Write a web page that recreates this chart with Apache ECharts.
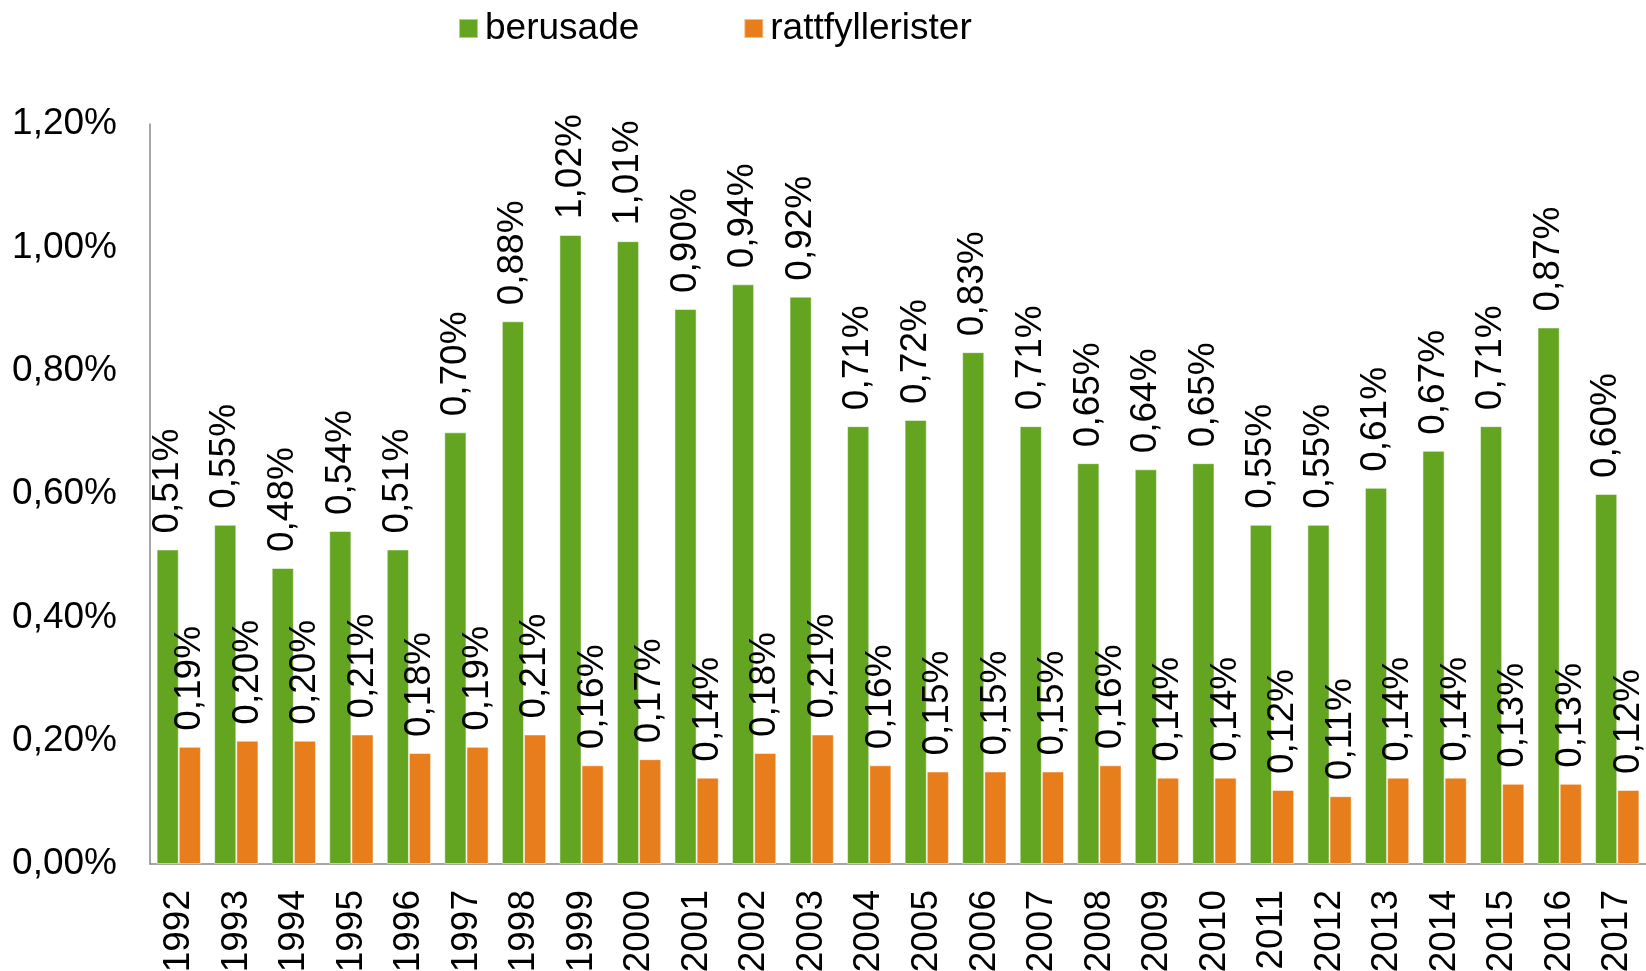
<!DOCTYPE html>
<html>
<head>
<meta charset="utf-8">
<script src="https://cdn.jsdelivr.net/npm/echarts@6/dist/echarts.min.js"></script>
<style>
  html, body { margin: 0; padding: 0; background: #fff; }
  #chart { width: 1646px; height: 971px; }
</style>
</head>
<body>
<div id="chart"></div>
<script>
const years = ['1992', '1993', '1994', '1995', '1996', '1997', '1998', '1999', '2000', '2001', '2002', '2003', '2004',
    '2005', '2006', '2007', '2008', '2009', '2010', '2011', '2012', '2013', '2014', '2015', '2016', '2017'];
const berusade = [0.51, 0.55, 0.48, 0.54, 0.51, 0.70, 0.88, 1.02, 1.01, 0.90, 0.94, 0.92, 0.71,
    0.72, 0.83, 0.71, 0.65, 0.64, 0.65, 0.55, 0.55, 0.61, 0.67, 0.71, 0.87, 0.60];
const rattfyllerister = [0.19, 0.20, 0.20, 0.21, 0.18, 0.19, 0.21, 0.16, 0.17, 0.14, 0.18, 0.21, 0.16,
    0.15, 0.15, 0.15, 0.16, 0.14, 0.14, 0.12, 0.11, 0.14, 0.14, 0.13, 0.13, 0.12];

const fontFam = '"Liberation Sans", Arial, sans-serif';

// procent med komma
function pct(v) {
    return v.toFixed(2).replace('.', ',') + '%';
}

let chart = echarts.init(document.getElementById('chart'));

let barLabel = {
    show: true,
    position: 'top',
    rotate: 90,
    align: 'left',
    verticalAlign: 'middle',
    distance: 16,
    fontSize: 37,
    fontFamily: fontFam,
    color: '#000',
    formatter: function (p) { return pct(p.value); }
};

const option = {
    animation: false,
    textStyle: { fontFamily: fontFam },
    legend: {
        top: 5,
        left: 453,
        itemWidth: 19,
        itemHeight: 19,
        itemGap: 104,
        icon: 'rect',
        textStyle: { fontSize: 37, color: '#000', fontFamily: fontFam, padding: [0, 0, 0, 2] },
        data: ['berusade', 'rattfyllerister']
    },
    grid: {
        left: 150,
        right: 0,
        top: 124,
        bottom: 107,
        containLabel: false,
        outerBoundsMode: 'none'
    },
    xAxis: {
        type: 'category',
        data: years,
        axisLine: { lineStyle: { color: '#898989', width: 1.5 } },
        axisTick: { show: false },
        axisLabel: {
            rotate: 90,
            margin: 26,
            fontSize: 37,
            color: '#000',
            fontFamily: fontFam
        }
    },
    yAxis: {
        type: 'value',
        min: 0,
        max: 1.2,
        interval: 0.2,
        axisLine: { show: true, lineStyle: { color: '#898989', width: 1.5 } },
        axisTick: { show: false },
        splitLine: { show: false },
        axisLabel: {
            margin: 33,
            fontSize: 37,
            color: '#000',
            fontFamily: fontFam,
            formatter: function (v) { return pct(v); }
        }
    },
    series: [
        {
            name: 'berusade',
            type: 'bar',
            data: berusade,
            barGap: '0%',
            barCategoryGap: '23%',
            itemStyle: { color: '#63a521', borderColor: 'rgba(255,255,255,0.5)', borderWidth: 1 },
            label: barLabel
        },
        {
            name: 'rattfyllerister',
            type: 'bar',
            data: rattfyllerister,
            itemStyle: { color: '#e87e1b', borderColor: 'rgba(255,255,255,0.5)', borderWidth: 1 },
            label: barLabel
        }
    ]
};

chart.setOption(option);
</script>
</body>
</html>
